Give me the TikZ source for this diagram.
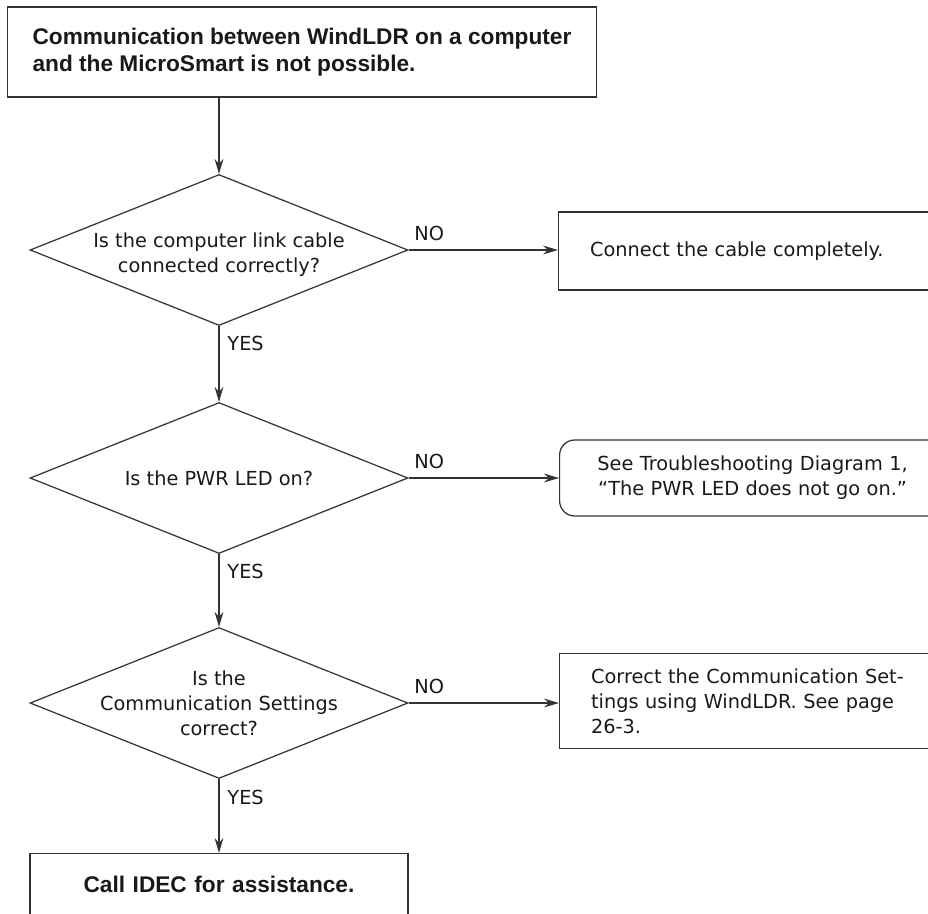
\documentclass[tikz,border=0pt]{standalone}
\usepackage{fontspec}
\setmainfont{DejaVu Sans}
\newfontfamily\demifont{Liberation Sans Bold}
\usetikzlibrary{shapes.geometric,arrows.meta}
\tikzset{
  txt/.style={font=\fontsize{11}{14.2}\selectfont,text=black!90},
  head/.style={draw,rectangle,font=\demifont\fontsize{12.9}{15.5}\selectfont,text=black!90},
  quest/.style={draw,diamond,minimum width=7.56cm,minimum height=3.02cm,inner sep=0pt},
  act/.style={draw,rectangle,txt,anchor=west,text width=7cm,align=left,inner xsep=0.63cm},
}
\begin{document}
\begin{tikzpicture}[x=0.02cm,y=-0.02cm,>={Stealth[length=8.5pt,width=5pt]},line width=0.7pt,draw=black!80]
\clip (0,0) rectangle (928,913);
\node[head,anchor=west,minimum height=1.8cm,align=left,inner xsep=0.5cm] (start) at (7,52) {Communication between WindLDR on a computer\\and the MicroSmart is not possible.};
\node[quest] (q1) at (219,250) {}; \node[txt,align=center] (t1) at (219,255) {Is the computer link cable\\connected correctly?};
\node[quest] (q2) at (219,478) {}; \node[txt,align=center] (t2) at (q2) {Is the PWR LED on?};
\node[quest] (q3) at (219,703) {}; \node[txt,align=center] (t3) at (q3) {Is the\\Communication Settings\\correct?};
\node[act,minimum height=1.56cm] (b1) at (558,251) {Connect the cable completely.};
\node[act,rounded corners=0.3cm,minimum height=1.52cm,text width=6.6cm,align=center,inner xsep=0.56cm] (b2) at (559,478) {See Troubleshooting Diagram 1,\\``The PWR LED does not go on.''};
\node[act,minimum height=1.9cm] (b3) at (559,701) {Correct the Communication Set-\\tings using WindLDR. See page\\26-3.};
\node[head,anchor=north,minimum width=7.56cm,text width=7cm,align=center,inner ysep=0.45cm,text depth=1cm] (help) at (219,853) {Call IDEC for assistance.};
\foreach \A/\B in {start/q1,q1/q2,q2/q3,q3/help}{\draw[->] (\A.south -| \B.north) -- (\B.north);}
\foreach \A/\B in {q1/b1,q2/b2,q3/b3}{\draw[->] (\A.east) -- (\A.east -| \B.west);}
\foreach \N/\Y in {1/343,2/571,3/797}{\node[txt,anchor=west] (yes\N) at (221,\Y) {YES};}
\foreach \N/\Y in {1/233,2/461,3/686}{\node[txt,anchor=west] (no\N) at (408,\Y) {NO};}
\end{tikzpicture}
\end{document}
